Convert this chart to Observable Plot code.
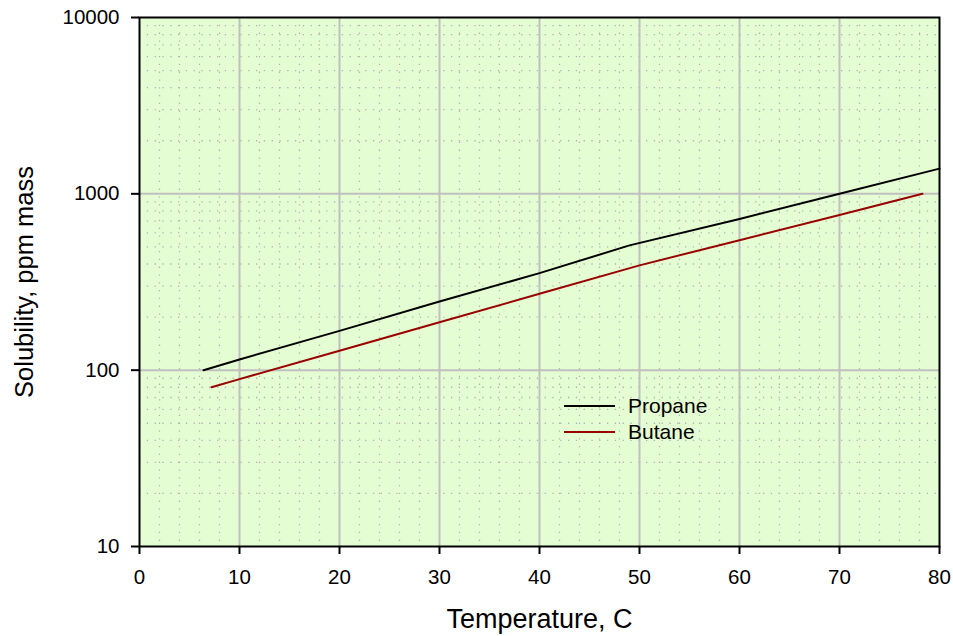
<!DOCTYPE html>
<html>
<head>
<meta charset="utf-8">
<script src="https://cdn.jsdelivr.net/npm/d3@7"></script>
<script src="https://cdn.jsdelivr.net/npm/@observablehq/plot@0.6"></script>
<style>
  html, body { margin: 0; padding: 0; background: #fff; }
  #chart { position: relative; width: 953px; height: 636px; }
  svg { font-family: "Liberation Sans", Arial, sans-serif; }
</style>
</head>
<body>
<div id="chart"></div>
<script>
// Data
const propaneT = [6.4, 10, 20, 30, 40, 49, 60, 70, 80];
const propaneS = [100, 115, 167, 245, 355, 510, 720, 1000, 1390];
const butaneT = [7.2, 10, 20, 30, 40, 50, 60, 70, 78.3];
const butaneS = [80, 89, 129, 187, 271, 393, 546, 759, 1000];
const seriesNames = ["Propane", "Butane"];
const seriesColors = ["#000000", "#990000"];
const xTicks = [0, 10, 20, 30, 40, 50, 60, 70, 80];
const yTicks = [10, 100, 1000, 10000];
const xMinor = d3.range(0, 81, 2).filter(v => v % 10 !== 0);
const yMinor = [10, 100, 1000].flatMap(d => [2,3,4,5,6,7,8,9].map(k => d * k));
const xMajorGrid = [10, 20, 30, 40, 50, 60, 70];
const yMajorGrid = [100, 1000];
const xLabel = "Temperature, C";
const yLabel = "Solubility, ppm mass";

const rows = [
  ...propaneT.map((t, i) => ({series: seriesNames[0], t, s: propaneS[i]})),
  ...butaneT.map((t, i) => ({series: seriesNames[1], t, s: butaneS[i]}))
];

const bg = "#e4fdd2";
const plot = Plot.plot({
  width: 953,
  height: 636,
  marginLeft: 139,
  marginRight: 14,
  marginTop: 17,
  marginBottom: 90,
  style: {fontFamily: "'Liberation Sans', Arial, sans-serif", fontSize: "20.5px", color: "#000", background: "#fff"},
  x: {domain: [0, 80]},
  y: {type: "log", domain: [10, 10000]},
  color: {domain: seriesNames, range: seriesColors},
  marks: [
    Plot.frame({fill: bg, stroke: null}),
    Plot.ruleX(xMinor, {stroke: "#b4b4b4", strokeWidth: 1.3, strokeDasharray: "1.3,6.5"}),
    Plot.ruleY(yMinor, {stroke: "#b4b4b4", strokeWidth: 1.3, strokeDasharray: "1.3,6.5"}),
    Plot.ruleX(xMajorGrid, {stroke: "#c0c0c0", strokeWidth: 2}),
    Plot.ruleY(yMajorGrid, {stroke: "#c0c0c0", strokeWidth: 2}),
    Plot.line(rows, {x: "t", y: "s", z: "series", stroke: "series", strokeWidth: 2}),
    Plot.frame({stroke: "#000", strokeWidth: 2}),
    Plot.axisX({ticks: xTicks, tickSize: 8, tickPadding: 15, label: null, fontSize: 20.5, strokeWidth: 2}),
    Plot.axisY({ticks: yTicks, tickFormat: d => String(d), tickSize: 8, tickPadding: 12, label: null, fontSize: 20.5, strokeWidth: 2}),
    Plot.text([xLabel], {frameAnchor: "bottom", dy: 73, lineAnchor: "middle", textAnchor: "middle", fontSize: 27, fill: "#000"}),
    Plot.text([yLabel], {frameAnchor: "left", dx: -115, rotate: -90, lineAnchor: "middle", textAnchor: "middle", fontSize: 25.5, fill: "#000"})
  ]
});
document.getElementById("chart").appendChild(plot);

// Legend inside the plot area
const svg = d3.select(plot);
const lg = svg.append("g")
  .attr("font-family", "'Liberation Sans', Arial, sans-serif")
  .attr("font-size", 21)
  .attr("text-anchor", "start");
seriesNames.forEach((name, i) => {
  const y = 406 + i * 26;
  lg.append("line").attr("x1", 564).attr("x2", 615).attr("y1", y).attr("y2", y)
    .attr("stroke", seriesColors[i]).attr("stroke-width", 2);
  lg.append("text").attr("x", 628).attr("y", y).attr("dy", "0.35em")
    .attr("text-anchor", "start").attr("fill", "#000").text(name);
});
</script>
</body>
</html>
